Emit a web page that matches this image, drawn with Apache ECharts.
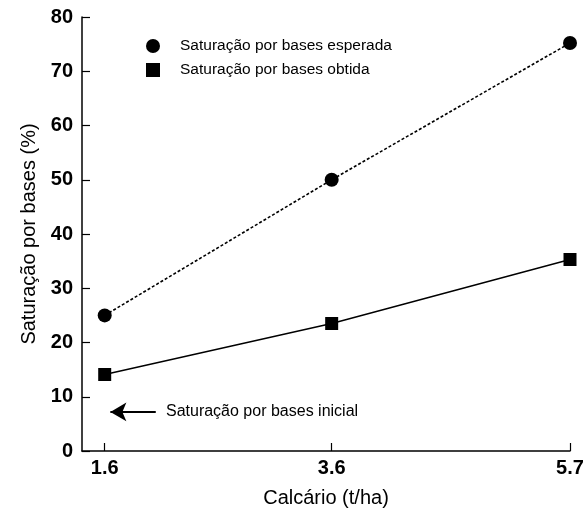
<!DOCTYPE html>
<html><head><meta charset="utf-8">
<script src="https://cdn.jsdelivr.net/npm/echarts@6/dist/echarts.min.js"></script>
<style>html,body{margin:0;padding:0;background:#fff}#c{width:587px;height:513px}</style>
</head><body><div id="c"></div>
<script>
const xValues = [1.6, 3.6, 5.7];
const xTickLabels = [1.6, 3.6, 5.7];
const yTicks = [0, 10, 20, 30, 40, 50, 60, 70, 80];
const expected = [25, 50, 75.2];
const obtained = [14.1, 23.5, 35.3];
const seriesNames = ['Saturação por bases esperada', 'Saturação por bases obtida'];
const annotationText = 'Saturação por bases inicial';
const annotationArrow = [[2.05, 7.2], [1.65, 7.2]];

const font = 'Liberation Sans, Arial, Helvetica, sans-serif';
const chart = echarts.init(document.getElementById('c'));
chart.setOption({
  animation: false,
  backgroundColor: '#fff',
  grid: { left: 82, right: 17, top: 17, bottom: 60 },
  legend: {
    left: 141, top: 33, orient: 'vertical', itemGap: 8,
    itemWidth: 14, itemHeight: 14,
    textStyle: { fontFamily: font, fontSize: 15.5, color: '#000', padding: [0, 0, 0, 15] },
    data: [
      { name: seriesNames[0], icon: 'circle' },
      { name: seriesNames[1], icon: 'rect' }
    ]
  },
  xAxis: {
    type: 'value', min: 1.4, max: 5.7,
    name: 'Calcário (t/ha)', nameLocation: 'middle', nameGap: 37,
    nameTextStyle: { fontFamily: font, fontSize: 20, color: '#000' },
    axisLine: { lineStyle: { color: '#000', width: 1.5 } },
    axisTick: { inside: true, length: 8, customValues: xTickLabels, lineStyle: { color: '#000', width: 1.2 } },
    axisLabel: { customValues: xTickLabels, fontFamily: font, fontSize: 20, fontWeight: 'bold', color: '#000', margin: 7 },
    splitLine: { show: false }
  },
  yAxis: {
    type: 'value', min: 0, max: 80, interval: 10,
    name: 'Saturação por bases (%)', nameLocation: 'middle', nameGap: 42,
    nameTextStyle: { fontFamily: font, fontSize: 20, color: '#000' },
    axisLine: { show: true, lineStyle: { color: '#000', width: 1.5 } },
    axisTick: { inside: true, length: 8, lineStyle: { color: '#000', width: 1.2 } },
    axisLabel: { fontFamily: font, fontSize: 20, fontWeight: 'bold', color: '#000', margin: 9,
      formatter: v => yTicks.includes(v) ? String(v) : '' },
    splitLine: { show: false }
  },
  series: [
    {
      name: seriesNames[0], type: 'line',
      data: xValues.map((x, i) => [x, expected[i]]),
      symbol: 'circle', symbolSize: 14,
      itemStyle: { color: '#000' },
      lineStyle: { color: '#000', width: 1.6, type: [3, 2] }
    },
    {
      name: seriesNames[1], type: 'line',
      data: xValues.map((x, i) => [x, obtained[i]]),
      symbol: 'rect', symbolSize: 13,
      itemStyle: { color: '#000' },
      lineStyle: { color: '#000', width: 1.4 },
      markLine: {
        silent: true, symbol: ['none', 'arrow'], symbolSize: [14, 16],
        lineStyle: { color: '#000', width: 1.8, type: 'solid' },
        label: { show: false },
        data: [[{ coord: annotationArrow[0] }, { coord: annotationArrow[1] }]]
      },
      markPoint: {
        silent: true, symbol: 'circle', symbolSize: 0,
        label: { show: true, position: 'right', distance: 0, formatter: annotationText,
          fontFamily: font, fontSize: 16, color: '#000' },
        data: [{ coord: [annotationArrow[0][0] + 0.09, annotationArrow[0][1]] }]
      }
    }
  ]
});
</script></body></html>
